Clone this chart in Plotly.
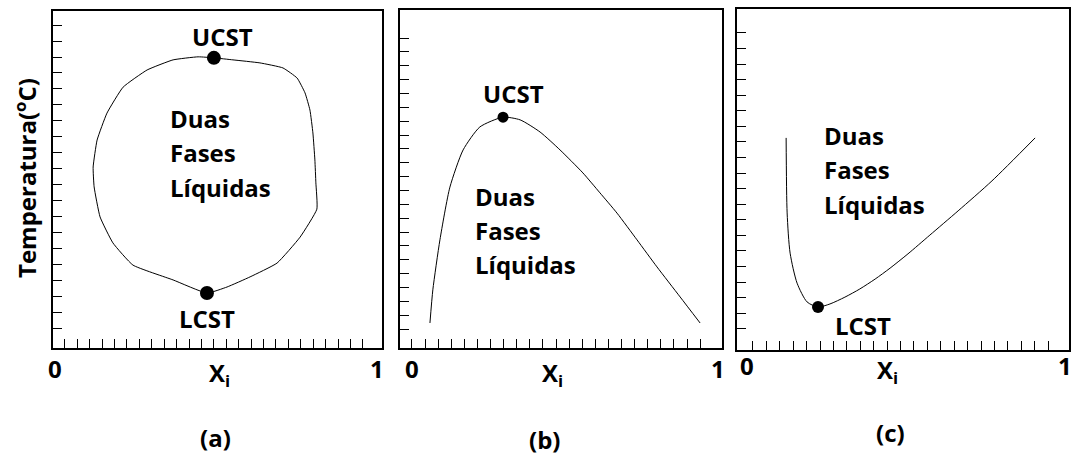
import numpy as np
import plotly.graph_objects as go

# ---- data (x = composition X_i, y = relative temperature) ----
a_x = [0.489, 0.547, 0.629, 0.699, 0.742, 0.766, 0.781, 0.790, 0.796, 0.799, 0.802, 0.751, 0.681,
       0.599, 0.529, 0.468, 0.365, 0.243, 0.182, 0.143, 0.125, 0.122, 0.134, 0.164, 0.213, 0.286,
       0.365, 0.441, 0.489]
a_y = [0.861, 0.855, 0.846, 0.831, 0.801, 0.757, 0.706, 0.638, 0.558, 0.490, 0.412, 0.329, 0.252,
       0.211, 0.181, 0.163, 0.202, 0.246, 0.312, 0.389, 0.478, 0.537, 0.617, 0.697, 0.774, 0.825,
       0.855, 0.864, 0.861]
a_ucst = (0.489, 0.861)
a_lcst = (0.468, 0.163)

b_x = [0.093, 0.102, 0.124, 0.155, 0.196, 0.248, 0.320, 0.373, 0.435, 0.497, 0.568, 0.621, 0.674,
       0.736, 0.798, 0.870, 0.932]
b_y = [0.074, 0.172, 0.320, 0.476, 0.586, 0.654, 0.683, 0.675, 0.639, 0.586, 0.518, 0.459, 0.399,
       0.320, 0.240, 0.151, 0.074]
b_ucst = (0.320, 0.683)

c_x = [0.148, 0.151, 0.160, 0.181, 0.211, 0.244, 0.280, 0.325, 0.370, 0.416, 0.461, 0.515, 0.581,
       0.666, 0.768, 0.898]
c_y = [0.622, 0.402, 0.284, 0.196, 0.141, 0.126, 0.135, 0.155, 0.179, 0.208, 0.240, 0.282, 0.337,
       0.408, 0.496, 0.622]
c_lcst = (0.244, 0.126)

panel_labels = ["(a)", "(b)", "(c)"]
region_lines = ["Duas", "Fases", "Líquidas"]
y_title = "Temperatura(<sup>o</sup>C)"
x_title = "X<sub>i</sub>"
tick_labels = ["0", "1"]

FONT = "Open Sans"
BOLD = dict(family=FONT, size=24, color="black", weight="bold")

fig = go.Figure()

fig.add_trace(go.Scatter(x=a_x, y=a_y, mode="lines", line=dict(color="black", width=1, shape="spline", smoothing=0.4),
                         xaxis="x", yaxis="y", showlegend=False))
fig.add_trace(go.Scatter(x=[a_ucst[0], a_lcst[0]], y=[a_ucst[1], a_lcst[1]], mode="markers",
                         marker=dict(color="black", size=14), xaxis="x", yaxis="y", showlegend=False))
fig.add_trace(go.Scatter(x=b_x, y=b_y, mode="lines", line=dict(color="black", width=1, shape="spline", smoothing=0.6),
                         xaxis="x2", yaxis="y2", showlegend=False))
fig.add_trace(go.Scatter(x=[b_ucst[0]], y=[b_ucst[1]], mode="markers",
                         marker=dict(color="black", size=11), xaxis="x2", yaxis="y2", showlegend=False))
fig.add_trace(go.Scatter(x=c_x, y=c_y, mode="lines", line=dict(color="black", width=1, shape="spline", smoothing=0.7),
                         xaxis="x3", yaxis="y3", showlegend=False))
fig.add_trace(go.Scatter(x=[c_lcst[0]], y=[c_lcst[1]], mode="markers",
                         marker=dict(color="black", size=12), xaxis="x3", yaxis="y3", showlegend=False))

W, H = 1075, 459
# panel boxes in pixels: (left, right, top, bottom)
boxes = [(53, 382, 11, 348), (400, 722, 10, 348), (737, 1069, 9, 350)]
xticks = [(0.036, 0.942, 25), (0.037, 0.932, 23), (0.048, 0.937, 23)]
yticks = [(0.059, 0.958, 20), (0.056, 0.917, 22), (0.062, 0.930, 20)]

layout = dict(width=W, height=H, margin=dict(l=0, r=0, t=0, b=0),
              plot_bgcolor="white", paper_bgcolor="white", showlegend=False)
for i, (l, r, t, b) in enumerate(boxes):
    s = "" if i == 0 else str(i + 1)
    ax_common = dict(range=[0, 1], showgrid=False, zeroline=False, showline=True, mirror=True,
                     linecolor="black", linewidth=1.5, ticks="inside", ticklen=9, tickwidth=1,
                     tickcolor="black", showticklabels=False, fixedrange=True)
    layout["xaxis" + s] = dict(ax_common, domain=[l / W, r / W], anchor="y" + s,
                               tickvals=list(np.linspace(*xticks[i])))
    layout["yaxis" + s] = dict(ax_common, domain=[1 - b / H, 1 - t / H], anchor="x" + s,
                               tickvals=list(np.linspace(*yticks[i])))
fig.update_layout(**layout)

ann = []
def txt(text, x, y, xref, yref, xanchor="center", **kw):
    ann.append(dict(text=text, x=x, y=y, xref=xref, yref=yref, showarrow=False,
                    xanchor=xanchor, yanchor="middle", font=BOLD, **kw))

# in-panel labels
txt("UCST", 0.514, 0.923, "x", "y")
txt("LCST", 0.468, 0.089, "x", "y")
txt("UCST", 0.351, 0.754, "x2", "y2")
txt("LCST", 0.380, 0.073, "x3", "y3")
for j, (xx, ys, s) in enumerate([(0.350, [0.682, 0.579, 0.475], ""),
                                 (0.227, [0.447, 0.349, 0.246], "2"),
                                 (0.256, [0.630, 0.528, 0.428], "3")]):
    for k, word in enumerate(region_lines):
        txt(word, xx, ys[k], "x" + s, "y" + s, xanchor="left")

# axis labels below panels
below = [("", 0.006, 0.985, 0.505, 0.495, 0.046),
         ("2", 0.037, 0.988, 0.475, 0.450, 0.042),
         ("3", 0.030, 0.988, 0.452, 0.461, 0.057)]
for i, (s, x0, x1, xx, xp, yp) in enumerate(below):
    y_tick = 1 - (368 if i < 2 else 365) / H
    txt(tick_labels[0], x0, y_tick, "x" + s, "paper")
    txt(tick_labels[1], x1, y_tick, "x" + s, "paper")
    txt(x_title, xx, y_tick - 0.012, "x" + s, "paper")
    txt(panel_labels[i], xp, yp, "x" + s, "paper")

txt(y_title, 25 / W, 1 - 178 / H, "paper", "paper", textangle=-90)
fig.update_layout(annotations=ann)

fig.write_html("out.html")
